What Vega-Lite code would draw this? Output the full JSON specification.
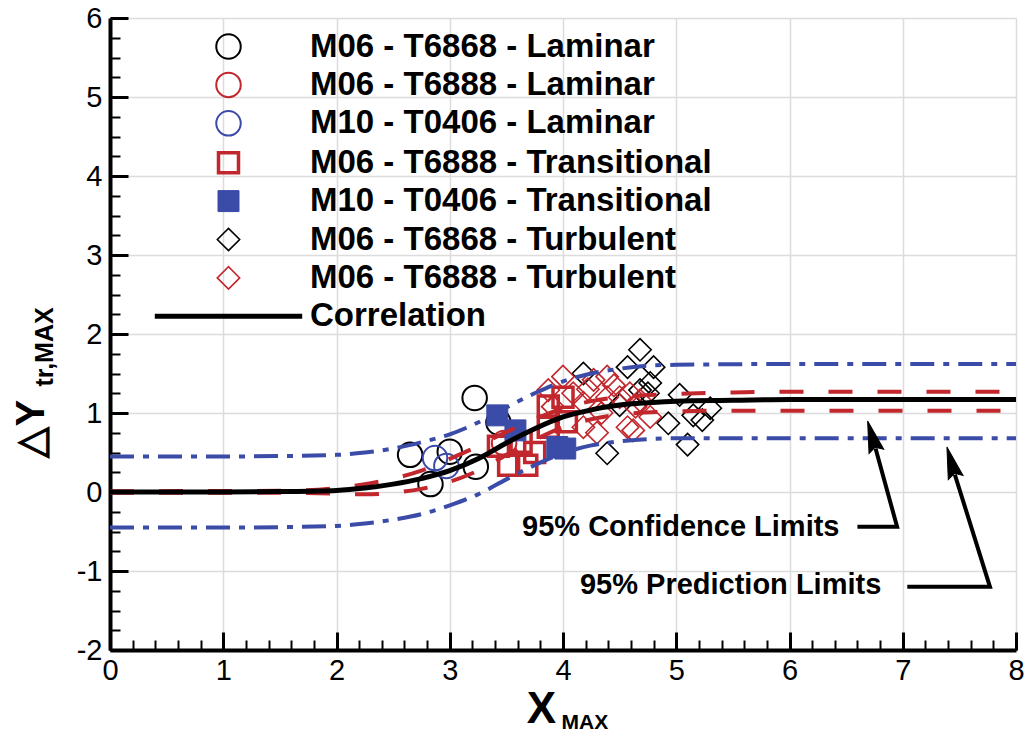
{
  "$schema": "https://vega.github.io/schema/vega-lite/v6.json",
  "width": 906,
  "height": 632,
  "autosize": "none",
  "padding": {"left": 110, "top": 18, "right": 10, "bottom": 86},
  "background": "white",
  "config": {
    "view": {"stroke": null},
    "font": "Liberation Sans"
  },
  "datasets": {
    "points": [
      {"series": "M06 - T6868 - Laminar", "x": 2.65, "y": 0.47},
      {"series": "M06 - T6868 - Laminar", "x": 3.22, "y": 1.19},
      {"series": "M06 - T6868 - Laminar", "x": 3.0, "y": 0.51},
      {"series": "M06 - T6868 - Laminar", "x": 2.83, "y": 0.1},
      {"series": "M06 - T6868 - Laminar", "x": 3.23, "y": 0.32},
      {"series": "M06 - T6868 - Laminar", "x": 3.43, "y": 0.88},
      {"series": "M06 - T6888 - Laminar", "x": 3.48, "y": 0.62},
      {"series": "M10 - T0406 - Laminar", "x": 2.87, "y": 0.43},
      {"series": "M10 - T0406 - Laminar", "x": 2.97, "y": 0.33},
      {"series": "M06 - T6888 - Transitional", "x": 3.52, "y": 0.34},
      {"series": "M06 - T6888 - Transitional", "x": 3.68, "y": 0.34},
      {"series": "M06 - T6888 - Transitional", "x": 3.43, "y": 0.58},
      {"series": "M06 - T6888 - Transitional", "x": 3.87, "y": 1.09},
      {"series": "M06 - T6888 - Transitional", "x": 3.87, "y": 0.82},
      {"series": "M06 - T6888 - Transitional", "x": 4.03, "y": 0.89},
      {"series": "M06 - T6888 - Transitional", "x": 3.63, "y": 0.63},
      {"series": "M06 - T6888 - Transitional", "x": 3.75, "y": 0.5},
      {"series": "M06 - T6888 - Transitional", "x": 4.0, "y": 1.2},
      {"series": "M10 - T0406 - Transitional", "x": 3.42, "y": 0.97},
      {"series": "M10 - T0406 - Transitional", "x": 3.95, "y": 0.57},
      {"series": "M10 - T0406 - Transitional", "x": 4.02, "y": 0.55},
      {"series": "M10 - T0406 - Transitional", "x": 3.58, "y": 0.78},
      {"series": "M06 - T6868 - Turbulent", "x": 4.68, "y": 1.8},
      {"series": "M06 - T6868 - Turbulent", "x": 4.57, "y": 1.58},
      {"series": "M06 - T6868 - Turbulent", "x": 4.18, "y": 1.5},
      {"series": "M06 - T6868 - Turbulent", "x": 4.68, "y": 1.29},
      {"series": "M06 - T6868 - Turbulent", "x": 4.39, "y": 0.49},
      {"series": "M06 - T6868 - Turbulent", "x": 4.8, "y": 1.58},
      {"series": "M06 - T6868 - Turbulent", "x": 4.77, "y": 1.38},
      {"series": "M06 - T6868 - Turbulent", "x": 4.75, "y": 1.25},
      {"series": "M06 - T6868 - Turbulent", "x": 5.03, "y": 1.23},
      {"series": "M06 - T6868 - Turbulent", "x": 4.93, "y": 0.87},
      {"series": "M06 - T6868 - Turbulent", "x": 5.1, "y": 0.6},
      {"series": "M06 - T6868 - Turbulent", "x": 5.15, "y": 0.97},
      {"series": "M06 - T6868 - Turbulent", "x": 5.3, "y": 1.06},
      {"series": "M06 - T6868 - Turbulent", "x": 5.23, "y": 0.91},
      {"series": "M06 - T6868 - Turbulent", "x": 4.5, "y": 1.1},
      {"series": "M06 - T6888 - Turbulent", "x": 4.0, "y": 1.46},
      {"series": "M06 - T6888 - Turbulent", "x": 4.09, "y": 1.25},
      {"series": "M06 - T6888 - Turbulent", "x": 4.27, "y": 1.42},
      {"series": "M06 - T6888 - Turbulent", "x": 4.39, "y": 1.46},
      {"series": "M06 - T6888 - Turbulent", "x": 4.39, "y": 1.2},
      {"series": "M06 - T6888 - Turbulent", "x": 4.18, "y": 0.82},
      {"series": "M06 - T6888 - Turbulent", "x": 4.34, "y": 1.0},
      {"series": "M06 - T6888 - Turbulent", "x": 4.57, "y": 0.82},
      {"series": "M06 - T6888 - Turbulent", "x": 4.5, "y": 1.2},
      {"series": "M06 - T6888 - Turbulent", "x": 4.18, "y": 1.13},
      {"series": "M06 - T6888 - Turbulent", "x": 3.91, "y": 1.08},
      {"series": "M06 - T6888 - Turbulent", "x": 3.87, "y": 1.29},
      {"series": "M06 - T6888 - Turbulent", "x": 4.3, "y": 0.75},
      {"series": "M06 - T6888 - Turbulent", "x": 4.64, "y": 1.08},
      {"series": "M06 - T6888 - Turbulent", "x": 4.59, "y": 1.25},
      {"series": "M06 - T6888 - Turbulent", "x": 4.68, "y": 1.16},
      {"series": "M06 - T6888 - Turbulent", "x": 4.77, "y": 0.95},
      {"series": "M06 - T6888 - Turbulent", "x": 4.62, "y": 0.78},
      {"series": "M06 - T6888 - Turbulent", "x": 4.22, "y": 1.3},
      {"series": "M06 - T6888 - Turbulent", "x": 4.45, "y": 1.35}
    ],
    "corr": [
      {"x": 0, "y": 0}, {"x": 0.5, "y": 0}, {"x": 1, "y": 0}, {"x": 1.5, "y": 0.005},
      {"x": 2, "y": 0.02}, {"x": 2.25, "y": 0.05}, {"x": 2.5, "y": 0.1}, {"x": 2.75, "y": 0.17},
      {"x": 3, "y": 0.27}, {"x": 3.25, "y": 0.42}, {"x": 3.5, "y": 0.62}, {"x": 3.75, "y": 0.8},
      {"x": 4, "y": 0.95}, {"x": 4.25, "y": 1.04}, {"x": 4.5, "y": 1.1}, {"x": 4.75, "y": 1.13},
      {"x": 5, "y": 1.15}, {"x": 5.5, "y": 1.16}, {"x": 6, "y": 1.17}, {"x": 7, "y": 1.17}, {"x": 8, "y": 1.17}
    ],
    "ci": [
      {"band": "upper", "x": 0, "y": 0.01}, {"band": "upper", "x": 1.5, "y": 0.015}, {"band": "upper", "x": 2, "y": 0.05},
      {"band": "upper", "x": 2.25, "y": 0.1}, {"band": "upper", "x": 2.5, "y": 0.17}, {"band": "upper", "x": 2.75, "y": 0.27},
      {"band": "upper", "x": 3, "y": 0.42}, {"band": "upper", "x": 3.25, "y": 0.58}, {"band": "upper", "x": 3.5, "y": 0.76},
      {"band": "upper", "x": 3.75, "y": 0.92}, {"band": "upper", "x": 4, "y": 1.06}, {"band": "upper", "x": 4.25, "y": 1.15},
      {"band": "upper", "x": 4.5, "y": 1.2}, {"band": "upper", "x": 5, "y": 1.24}, {"band": "upper", "x": 5.5, "y": 1.26},
      {"band": "upper", "x": 6, "y": 1.27}, {"band": "upper", "x": 8, "y": 1.27},
      {"band": "lower", "x": 0, "y": -0.01}, {"band": "lower", "x": 1.5, "y": -0.01}, {"band": "lower", "x": 2, "y": -0.02},
      {"band": "lower", "x": 2.25, "y": -0.03}, {"band": "lower", "x": 2.5, "y": -0.01}, {"band": "lower", "x": 2.75, "y": 0.04},
      {"band": "lower", "x": 3, "y": 0.13}, {"band": "lower", "x": 3.25, "y": 0.27}, {"band": "lower", "x": 3.5, "y": 0.47},
      {"band": "lower", "x": 3.75, "y": 0.66}, {"band": "lower", "x": 4, "y": 0.82}, {"band": "lower", "x": 4.25, "y": 0.92},
      {"band": "lower", "x": 4.5, "y": 0.98}, {"band": "lower", "x": 5, "y": 1.02}, {"band": "lower", "x": 5.5, "y": 1.03},
      {"band": "lower", "x": 8, "y": 1.03}
    ],
    "pi": [
      {"band": "upper", "x": 0, "y": 0.45}, {"band": "upper", "x": 1, "y": 0.45}, {"band": "upper", "x": 1.5, "y": 0.455},
      {"band": "upper", "x": 2, "y": 0.47}, {"band": "upper", "x": 2.25, "y": 0.5}, {"band": "upper", "x": 2.5, "y": 0.55},
      {"band": "upper", "x": 2.75, "y": 0.63}, {"band": "upper", "x": 3, "y": 0.73}, {"band": "upper", "x": 3.25, "y": 0.88},
      {"band": "upper", "x": 3.5, "y": 1.07}, {"band": "upper", "x": 3.75, "y": 1.25}, {"band": "upper", "x": 4, "y": 1.4},
      {"band": "upper", "x": 4.25, "y": 1.5}, {"band": "upper", "x": 4.5, "y": 1.56}, {"band": "upper", "x": 4.75, "y": 1.6},
      {"band": "upper", "x": 5, "y": 1.61}, {"band": "upper", "x": 6, "y": 1.62}, {"band": "upper", "x": 8, "y": 1.62},
      {"band": "lower", "x": 0, "y": -0.45}, {"band": "lower", "x": 1, "y": -0.45}, {"band": "lower", "x": 1.5, "y": -0.445},
      {"band": "lower", "x": 2, "y": -0.43}, {"band": "lower", "x": 2.25, "y": -0.4}, {"band": "lower", "x": 2.5, "y": -0.35},
      {"band": "lower", "x": 2.75, "y": -0.28}, {"band": "lower", "x": 3, "y": -0.17}, {"band": "lower", "x": 3.25, "y": -0.03},
      {"band": "lower", "x": 3.5, "y": 0.16}, {"band": "lower", "x": 3.75, "y": 0.34}, {"band": "lower", "x": 4, "y": 0.49},
      {"band": "lower", "x": 4.25, "y": 0.59}, {"band": "lower", "x": 4.5, "y": 0.64}, {"band": "lower", "x": 4.75, "y": 0.67},
      {"band": "lower", "x": 5, "y": 0.68}, {"band": "lower", "x": 8, "y": 0.68}
    ],
    "notes": [
      {"label": "95% Confidence Limits", "x": 5.04, "y": -0.44},
      {"label": "95% Prediction Limits", "x": 5.48, "y": -1.18}
    ],
    "arrows": [
      {"arrow": "conf", "o": 1, "x": 6.6, "y": -0.44},
      {"arrow": "conf", "o": 2, "x": 6.95, "y": -0.44},
      {"arrow": "conf", "o": 3, "x": 6.76, "y": 0.55},
      {"arrow": "pred", "o": 1, "x": 7.04, "y": -1.2},
      {"arrow": "pred", "o": 2, "x": 7.77, "y": -1.2},
      {"arrow": "pred", "o": 3, "x": 7.46, "y": 0.22}
    ],
    "heads": [
      {"arrow": "conf", "x": 6.73, "y": 0.7},
      {"arrow": "pred", "x": 7.43, "y": 0.37}
    ]
  },
  "resolve": {"axis": {"x": "independent", "y": "independent"}},
  "layer": [
    {
      "data": {"name": "points"},
      "mark": {"type": "point", "opacity": 1},
      "encoding": {
        "x": {
          "field": "x", "type": "quantitative",
          "scale": {"domain": [0, 8], "nice": false, "zero": false},
          "axis": {
            "orient": "bottom",
            "values": [0, 1, 2, 3, 4, 5, 6, 7, 8],
            "grid": true, "gridColor": "#dcdcdc", "gridWidth": 1.5,
            "domain": true, "domainColor": "black", "domainWidth": 4,
            "ticks": true, "tickSize": -18, "tickWidth": 3, "tickColor": "black",
            "labelFont": "Liberation Sans", "labelFontSize": 29, "labelColor": "black",
            "labelPadding": 24, "labelExpr": "toString(datum.value)", "labelFlush": false,
            "title": "X", "titleFont": "Liberation Sans", "titleFontSize": 44, "titleFontWeight": "bold",
            "titleColor": "black", "titleX": 431, "titleY": 72, "titleAlign": "center", "titleBaseline": "alphabetic"
          }
        },
        "y": {
          "field": "y", "type": "quantitative",
          "scale": {"domain": [-2, 6], "nice": false, "zero": false},
          "axis": {
            "orient": "left",
            "values": [-2, -1, 0, 1, 2, 3, 4, 5, 6],
            "grid": true, "gridColor": "#dcdcdc", "gridWidth": 1.5,
            "domain": true, "domainColor": "black", "domainWidth": 4,
            "ticks": true, "tickSize": -18, "tickWidth": 3, "tickColor": "black",
            "labelFont": "Liberation Sans", "labelFontSize": 29, "labelColor": "black",
            "labelPadding": 26, "labelExpr": "toString(datum.value)", "labelFlush": false,
            "title": "△Y", "titleFont": "Liberation Sans", "titleFontSize": 40, "titleFontWeight": "bold",
            "titleColor": "black", "titleAngle": 270, "titleX": -67, "titleY": 439, "titleAlign": "left", "titleBaseline": "alphabetic"
          }
        },
        "shape": {
          "field": "series", "type": "nominal",
          "scale": {
            "domain": ["M06 - T6868 - Laminar", "M06 - T6888 - Laminar", "M10 - T0406 - Laminar", "M06 - T6888 - Transitional", "M10 - T0406 - Transitional", "M06 - T6868 - Turbulent", "M06 - T6888 - Turbulent", "Correlation"],
            "range": ["circle", "circle", "circle", "square", "square", "diamond", "diamond", "M-6.7,0H6.7"]
          },
          "legend": {
            "orient": "none", "legendX": 102, "legendY": 12, "title": null, "padding": 0,
            "labelFont": "Liberation Sans", "labelFontSize": 33, "labelFontWeight": "bold", "labelColor": "black",
            "labelOffset": 65, "rowPadding": 4.4, "labelLimit": 0
          }
        },
        "stroke": {
          "field": "series", "type": "nominal",
          "scale": {
            "domain": ["M06 - T6868 - Laminar", "M06 - T6888 - Laminar", "M10 - T0406 - Laminar", "M06 - T6888 - Transitional", "M10 - T0406 - Transitional", "M06 - T6868 - Turbulent", "M06 - T6888 - Turbulent", "Correlation"],
            "range": ["#000000", "#c1272d", "#3b4ba8", "#c1272d", "#3b4ba8", "#000000", "#c1272d", "#000000"]
          }
        },
        "fill": {
          "field": "series", "type": "nominal",
          "scale": {
            "domain": ["M06 - T6868 - Laminar", "M06 - T6888 - Laminar", "M10 - T0406 - Laminar", "M06 - T6888 - Transitional", "M10 - T0406 - Transitional", "M06 - T6868 - Turbulent", "M06 - T6888 - Turbulent", "Correlation"],
            "range": ["transparent", "transparent", "transparent", "transparent", "#3b4ba8", "transparent", "transparent", "transparent"]
          }
        },
        "strokeWidth": {
          "field": "series", "type": "nominal",
          "scale": {
            "type": "ordinal",
            "domain": ["M06 - T6868 - Laminar", "M06 - T6888 - Laminar", "M10 - T0406 - Laminar", "M06 - T6888 - Transitional", "M10 - T0406 - Transitional", "M06 - T6868 - Turbulent", "M06 - T6888 - Turbulent", "Correlation"],
            "range": [2, 2, 2, 3.5, 1, 1.6, 1.6, 5]
          }
        },
        "size": {
          "field": "series", "type": "nominal",
          "scale": {
            "type": "ordinal",
            "domain": ["M06 - T6868 - Laminar", "M06 - T6888 - Laminar", "M10 - T0406 - Laminar", "M06 - T6888 - Transitional", "M10 - T0406 - Transitional", "M06 - T6868 - Turbulent", "M06 - T6888 - Turbulent", "Correlation"],
            "range": [600, 600, 600, 400, 440, 500, 500, 484]
          }
        }
      }
    },
    {
      "data": {"name": "ci"},
      "mark": {"type": "line", "stroke": "#c1272d", "strokeWidth": 4, "strokeDash": [24, 25], "interpolate": "monotone"},
      "encoding": {
        "x": {"field": "x", "type": "quantitative", "axis": null},
        "y": {"field": "y", "type": "quantitative", "axis": null},
        "detail": {"field": "band", "type": "nominal"}
      }
    },
    {
      "data": {"name": "pi"},
      "mark": {"type": "line", "stroke": "#3b4ba8", "strokeWidth": 4, "strokeDash": [24, 9, 6, 9], "interpolate": "monotone"},
      "encoding": {
        "x": {"field": "x", "type": "quantitative", "axis": null},
        "y": {"field": "y", "type": "quantitative", "axis": null},
        "detail": {"field": "band", "type": "nominal"}
      }
    },
    {
      "data": {"name": "corr"},
      "mark": {"type": "line", "stroke": "black", "strokeWidth": 5, "interpolate": "monotone"},
      "encoding": {
        "x": {
          "field": "x", "type": "quantitative",
          "axis": {
            "orient": "bottom",
            "values": [0, 0.2, 0.4, 0.6, 0.8, 1, 1.2, 1.4, 1.6, 1.8, 2, 2.2, 2.4, 2.6, 2.8, 3, 3.2, 3.4, 3.6, 3.8, 4, 4.2, 4.4, 4.6, 4.8, 5, 5.2, 5.4, 5.6, 5.8, 6, 6.2, 6.4, 6.6, 6.8, 7, 7.2, 7.4, 7.6, 7.8, 8],
            "grid": false, "domain": false, "labels": false,
            "ticks": true, "tickSize": -10, "tickWidth": 2, "tickColor": "black",
            "title": "MAX", "titleFont": "Liberation Sans", "titleFontSize": 21, "titleFontWeight": "bold",
            "titleColor": "black", "titleX": 451, "titleY": 78, "titleAlign": "left", "titleBaseline": "alphabetic"
          }
        },
        "y": {
          "field": "y", "type": "quantitative",
          "axis": {
            "orient": "left",
            "values": [-2, -1.75, -1.5, -1.25, -1, -0.75, -0.5, -0.25, 0, 0.25, 0.5, 0.75, 1, 1.25, 1.5, 1.75, 2, 2.25, 2.5, 2.75, 3, 3.25, 3.5, 3.75, 4, 4.25, 4.5, 4.75, 5, 5.25, 5.5, 5.75, 6],
            "grid": false, "domain": false, "labels": false,
            "ticks": true, "tickSize": -10, "tickWidth": 2, "tickColor": "black",
            "title": "tr,MAX", "titleFont": "Liberation Sans", "titleFontSize": 25, "titleFontWeight": "bold",
            "titleColor": "black", "titleAngle": 270, "titleX": -58, "titleY": 368, "titleAlign": "left", "titleBaseline": "alphabetic"
          }
        }
      }
    },
    {
      "data": {"name": "notes"},
      "mark": {"type": "text", "font": "Liberation Sans", "fontSize": 29, "fontWeight": "bold", "align": "center", "baseline": "middle", "color": "black"},
      "encoding": {
        "x": {"field": "x", "type": "quantitative", "axis": null},
        "y": {"field": "y", "type": "quantitative", "axis": null},
        "text": {"field": "label", "type": "nominal"}
      }
    },
    {
      "data": {"name": "arrows"},
      "mark": {"type": "line", "stroke": "black", "strokeWidth": 4},
      "encoding": {
        "x": {"field": "x", "type": "quantitative", "axis": null},
        "y": {"field": "y", "type": "quantitative", "axis": null},
        "detail": {"field": "arrow", "type": "nominal"},
        "order": {"field": "o", "type": "quantitative"}
      }
    },
    {
      "data": {"name": "heads"},
      "mark": {"type": "point", "shape": "M0,-1.5L0.7,1.4L0,1.0L-0.7,1.4Z", "filled": true, "fill": "black", "stroke": "black", "strokeWidth": 1, "opacity": 1, "size": 480, "angle": 344},
      "encoding": {
        "x": {"field": "x", "type": "quantitative", "axis": null},
        "y": {"field": "y", "type": "quantitative", "axis": null}
      }
    }
  ]
}
